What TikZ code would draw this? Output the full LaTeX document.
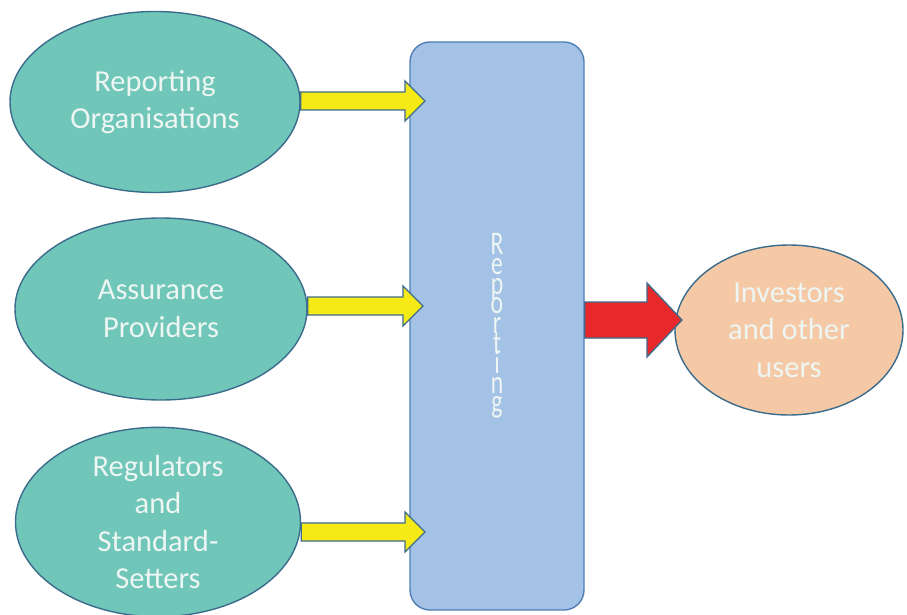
\documentclass[tikz,border=0pt]{standalone}
\usepackage{fontspec}
\setmainfont{Carlito}
\newfontfamily\narrowfont[FakeStretch=0.72]{Carlito}
\newcommand\tightlines{\setlength{\lineskiplimit}{-50pt}\setlength{\lineskip}{0pt}}
\usetikzlibrary{shapes.geometric,calc}
\definecolor{tealfill}{HTML}{70C6B8}
\definecolor{edgeblue}{HTML}{3C6C8C}
\definecolor{rectfill}{HTML}{A4C2E5}
\definecolor{rectedge}{HTML}{4F7FB6}
\definecolor{yel}{HTML}{F6EA16}
\definecolor{redarr}{HTML}{E8282A}
\definecolor{peach}{HTML}{F5C9A6}
\definecolor{txt}{HTML}{EEF6F3}
\tikzset{
  oval/.style={ellipse, draw=edgeblue, line width=1.4pt, fill=#1, inner sep=0pt,
    text=txt, align=center, font=\fontsize{30.5}{37.5}\selectfont},
  bigbox/.style={draw=rectedge, line width=1.4pt, fill=rectfill, rounded corners=20pt,
    text=txt, align=center, font=\narrowfont\fontsize{33}{19.8}\selectfont\tightlines},
  yarrow/.style={draw=edgeblue, line width=1.3pt, fill=yel, line join=miter},
  rarrow/.style={draw=edgeblue, line width=1.3pt, fill=redarr, line join=miter}
}
\newcommand\blockarr[6]{%
  \draw[#1] ($(#2)+(0,-#4)$) -- ($(#3)+(-#6,-#4)$) -- ($(#3)+(-#6,-#5)$) -- (#3)
    -- ($(#3)+(-#6,#5)$) -- ($(#3)+(-#6,#4)$) -- ($(#2)+(0,#4)$) -- cycle;}
\begin{document}
\begin{tikzpicture}[x=1pt,y=-1pt]
\path[use as bounding box, fill=white] (0,0) rectangle (907,615);
\node[oval=tealfill, minimum width=290pt, minimum height=181pt] (e1) at (155,102) {Reporting\\Organisations};
\node[oval=tealfill, minimum width=292pt, minimum height=182pt] (e2) at (161,309) {Assurance\\Providers};
\node[oval=tealfill, minimum width=285pt, minimum height=182pt] (e3) at (158,522) {Regulators\\and\\Standard-\\Setters};
\node[bigbox, minimum width=174pt, minimum height=568pt] (rep) at (497,326) {R\\e\\p\\o\\r\\t\\i\\n\\g};
\node[oval=peach, minimum width=228pt, minimum height=170pt] (inv) at (789,330) {Investors\\and other\\users};
\coordinate (t1) at (425,101);
\coordinate (t2) at (423,306);
\coordinate (t3) at (425,532);
\coordinate (t4) at (682,320);
\coordinate (s1) at (e1.east |- t1);
\coordinate (s2) at (e2.east |- t2);
\coordinate (s3) at (e3.east |- t3);
\coordinate (s4) at (rep.east |- t4);
\blockarr{yarrow}{s1}{t1}{9}{20}{20}
\blockarr{yarrow}{s2}{t2}{9}{20}{20}
\blockarr{yarrow}{s3}{t3}{9}{20}{20}
\blockarr{rarrow}{s4}{t4}{18}{37}{35}
\end{tikzpicture}
\end{document}
